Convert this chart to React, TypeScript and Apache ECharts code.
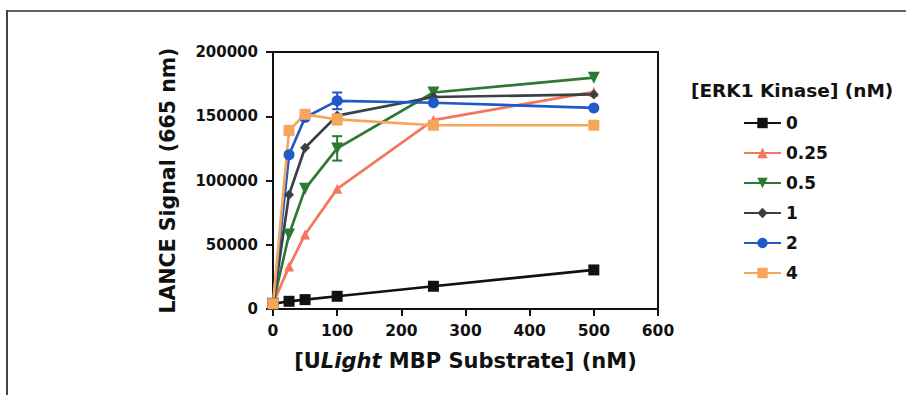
import React, { useEffect, useRef } from "react";
import * as echarts from "echarts";

const substrate = [0, 25, 50, 100, 250, 500];
const seriesNames = ["0", "0.25", "0.5", "1", "2", "4"];
const s0 = [4000, 6000, 7300, 9900, 17700, 30400];
const s025 = [4000, 33000, 58000, 93500, 147000, 169000];
const s05 = [4000, 58000, 93500, 125000, 168500, 180000];
const s1 = [4000, 89000, 125500, 150500, 165000, 167000];
const s2 = [4000, 120000, 149000, 162000, 160500, 156500];
const s4 = [4000, 139000, 151500, 147500, 143000, 143000];
// error bars: [x, mean, sd]
const err05 = [[100, 125000, 9500]];
const err2 = [[100, 162000, 6500]];
const err4 = [[100, 147500, 4000]];
const yTicks = [0, 50000, 100000, 150000, 200000];
const xTicks = [0, 100, 200, 300, 400, 500, 600];

const colors = ["#111111", "#f4765f", "#2b7a33", "#3a4045", "#1f5ac6", "#f7a55a"];
const symbols = ["rect", "triangle", "triangle", "diamond", "circle", "rect"];
const symbolRot = [0, 0, 180, 0, 0, 0];
const symbolSizes = [11, 10, 12, 10, 11, 11];
const FONT = "'DejaVu Sans', 'Liberation Sans', Arial, sans-serif";

export default function App() {
  const ref = useRef<HTMLDivElement>(null);
  useEffect(() => {
    if (!ref.current) return;
    const chart = echarts.init(ref.current, undefined, { renderer: "svg" });
    const allValues = [s0, s025, s05, s1, s2, s4];
    const lineSeries = allValues.map((vals, i) => ({
      type: "line",
      name: seriesNames[i],
      data: substrate.map((x, j) => [x, vals[j]]),
      symbol: symbols[i],
      symbolSize: symbolSizes[i],
      symbolRotate: symbolRot[i],
      showSymbol: true,
      lineStyle: { color: colors[i], width: 2.7 },
      itemStyle: { color: colors[i] },
      z: 3,
    }));
    const errSets = [
      { data: err05, color: colors[2] },
      { data: err2, color: colors[4] },
      { data: err4, color: colors[5] },
    ];
    const errSeries = errSets.map((e) => ({
      type: "custom",
      data: e.data,
      z: 4,
      silent: true,
      renderItem: (params: any, api: any) => {
        const x = api.value(0);
        const m = api.value(1);
        const sd = api.value(2);
        const top = api.coord([x, m + sd]);
        const bot = api.coord([x, m - sd]);
        const hw = 5;
        const style = { stroke: e.color, lineWidth: 2 };
        return {
          type: "group",
          children: [
            { type: "line", shape: { x1: top[0], y1: top[1], x2: bot[0], y2: bot[1] }, style },
            { type: "line", shape: { x1: top[0] - hw, y1: top[1], x2: top[0] + hw, y2: top[1] }, style },
            { type: "line", shape: { x1: bot[0] - hw, y1: bot[1], x2: bot[0] + hw, y2: bot[1] }, style },
          ],
        };
      },
    }));

    chart.setOption({
      animation: false,
      backgroundColor: "#ffffff",
      textStyle: { fontFamily: FONT },
      grid: {
        left: 273,
        top: 52,
        width: 385,
        height: 257,
        show: true,
        borderColor: "#111",
        borderWidth: 2,
        backgroundColor: "transparent",
      },
      legend: {
        orient: "vertical",
        left: 743,
        top: 114,
        padding: 0,
        itemWidth: 37,
        itemHeight: 13,
        itemGap: 12,
        data: seriesNames,
        textStyle: { fontFamily: FONT, fontWeight: "bold", fontSize: 17, color: "#111", lineHeight: 18 },
      },
      graphic: [
        { type: "line", shape: { x1: 6, y1: 11, x2: 906, y2: 11 }, style: { stroke: "#666", lineWidth: 2 } },
        { type: "line", shape: { x1: 7, y1: 10, x2: 7, y2: 395 }, style: { stroke: "#444", lineWidth: 2 } },
        {
          type: "text",
          left: 691,
          top: 81,
          style: { text: "[ERK1 Kinase] (nM)", fontFamily: FONT, fontWeight: "bold", fontSize: 18.5, fill: "#111" },
        },
      ],
      xAxis: {
        type: "value",
        min: 0,
        max: 600,
        interval: 100,
        axisLine: { show: true, lineStyle: { color: "#111", width: 2 } },
        axisTick: { show: true, length: 7, lineStyle: { color: "#111", width: 2 } },
        splitLine: { show: false },
        axisLabel: {
          margin: 14,
          fontFamily: FONT,
          fontWeight: "bold",
          fontSize: 15.5,
          color: "#111",
          formatter: (v: number) => (xTicks.includes(v) ? String(v) : ""),
        },
        name: "{a|[U}{b|Light}{a| MBP Substrate] (nM)}",
        nameLocation: "middle",
        nameGap: 41,
        nameTextStyle: {
          rich: {
            a: { fontFamily: FONT, fontWeight: "bold", fontSize: 21, color: "#111" },
            b: { fontFamily: FONT, fontWeight: "bold", fontStyle: "italic", fontSize: 21, color: "#111" },
          },
        },
      },
      yAxis: {
        type: "value",
        min: 0,
        max: 200000,
        interval: 50000,
        axisLine: { show: true, lineStyle: { color: "#111", width: 2 } },
        axisTick: { show: true, length: 7, lineStyle: { color: "#111", width: 2 } },
        splitLine: { show: false },
        axisLabel: {
          margin: 15,
          fontFamily: FONT,
          fontWeight: "bold",
          fontSize: 15,
          color: "#111",
          formatter: (v: number) => (yTicks.includes(v) ? String(v) : ""),
        },
        name: "LANCE Signal (665 nm)",
        nameLocation: "middle",
        nameGap: 95,
        nameTextStyle: { fontFamily: FONT, fontWeight: "bold", fontSize: 20.5, color: "#111" },
      },
      series: [...lineSeries, ...errSeries],
    });
    return () => chart.dispose();
  }, []);
  return (
    <div
      ref={ref}
      style={{ position: "fixed", left: 0, top: 0, width: 906, height: 395 }}
    />
  );
}
